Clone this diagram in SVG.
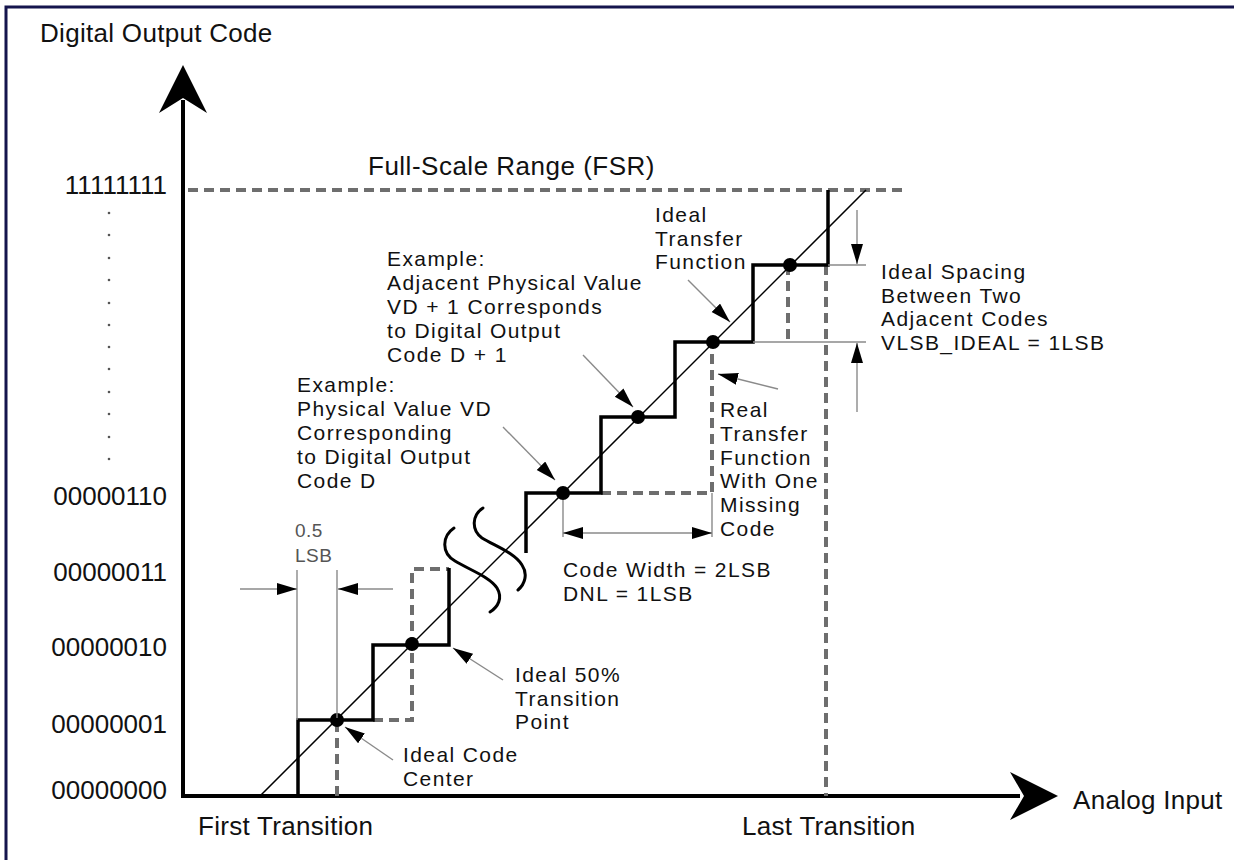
<svg xmlns="http://www.w3.org/2000/svg" width="1234" height="860" viewBox="0 0 1234 860">
<defs>
<style>
text{font-family:"Liberation Sans",Arial,sans-serif;fill:#111;font-size:21px;letter-spacing:1.4px}
.title{font-size:26px;letter-spacing:0.3px}
.code{font-size:26px;letter-spacing:0}
.small{font-size:19px;fill:#555;letter-spacing:0.5px}
.step{fill:none;stroke:#000;stroke-width:3.5;stroke-linejoin:miter}
.dash{fill:none;stroke:#6e6e6e;stroke-width:4;stroke-dasharray:10 6}
.thin{fill:none;stroke:#8a8a8a;stroke-width:1.4}
.lead{fill:none;stroke:#8a8a8a;stroke-width:1.4;marker-end:url(#ah)}
.brk{fill:none;stroke:#000;stroke-width:3;stroke-linecap:round}
</style>
<marker id="ah" markerUnits="userSpaceOnUse" markerWidth="22" markerHeight="14" refX="20" refY="6" orient="auto">
<path d="M0,0 L20,6 L0,12 z" fill="#000"/>
</marker>
<marker id="ah2" markerUnits="userSpaceOnUse" markerWidth="22" markerHeight="14" refX="20" refY="6" orient="auto-start-reverse">
<path d="M0,0 L20,6 L0,12 z" fill="#000"/>
</marker>
</defs>
<rect width="1234" height="860" fill="#fff"/>
<path d="M6,860 V7 H1234" fill="none" stroke="#15154d" stroke-width="3"/>

<g id="axes">
<path d="M183,796 V100" stroke="#000" stroke-width="4" fill="none"/>
<polygon points="183,65 207,113 183,98 159,113" fill="#000"/>
<path d="M181,796 H1020" stroke="#000" stroke-width="4" fill="none"/>
<polygon points="1058,796 1010,772 1024,796 1010,820" fill="#000"/>
<text class="title" x="40" y="42">Digital Output Code</text>
<text class="title" x="1073" y="809">Analog Input</text>
<text class="title" x="198" y="835">First Transition</text>
<text class="title" x="742" y="835">Last Transition</text>
</g>

<g id="codes" text-anchor="end">
<text class="code" x="167" y="194">11111111</text>
<text class="code" x="167" y="505">00000110</text>
<text class="code" x="167" y="581">00000011</text>
<text class="code" x="167" y="656">00000010</text>
<text class="code" x="167" y="733">00000001</text>
<text class="code" x="167" y="799">00000000</text>
</g>
<g id="dots" fill="#555">
<circle cx="109" cy="213" r="1.3"/><circle cx="109" cy="235" r="1.3"/><circle cx="109" cy="258" r="1.3"/>
<circle cx="109" cy="280" r="1.3"/><circle cx="109" cy="303" r="1.3"/><circle cx="109" cy="325" r="1.3"/>
<circle cx="109" cy="347" r="1.3"/><circle cx="109" cy="369" r="1.3"/><circle cx="109" cy="392" r="1.3"/>
<circle cx="109" cy="414" r="1.3"/><circle cx="109" cy="437" r="1.3"/><circle cx="109" cy="459" r="1.3"/>
</g>

<g id="fsr">
<path class="dash" d="M188,190 H905"/>
<text class="title" x="368" y="175" style="letter-spacing:0.5px">Full-Scale Range (FSR)</text>
</g>

<g id="ideal-line">
<path d="M260,796 L866,190" stroke="#000" stroke-width="1.5" fill="none"/>
</g>

<g id="dashed">
<path class="dash" d="M337,722 V796"/>
<path class="dash" d="M373,720 H412 V569 H449"/>
<path class="dash" d="M601,493 H712 V342"/>
<path class="dash" d="M788,265 V342"/>
<path class="dash" d="M826,265 V796"/>
</g>

<g id="staircase">
<path class="step" d="M298,796 V720 H373 V645 H449 V568"/>
<path class="step" d="M526,553 V493 H601 V417 H675 V342 H753 V265 H828 V190"/>
</g>

<g id="break">
<path class="brk" d="M454,528 C442,536 441,553 455,561 C470,570 490,577 497,588 C503,598 498,607 490,612"/>
<path class="brk" d="M483,508 C472,515 471,530 482,538 C495,546 515,553 522,565 C528,574 525,584 518,590"/>
</g>

<g id="points" fill="#000">
<circle cx="337" cy="720" r="7"/>
<circle cx="412" cy="644" r="7"/>
<circle cx="563" cy="493" r="7"/>
<circle cx="638" cy="417" r="7"/>
<circle cx="713" cy="342" r="7"/>
<circle cx="790" cy="265" r="7"/>
</g>

<g id="connectors">
<path class="lead" d="M393,760 L345,727"/>
<path class="lead" d="M503,680 L453,648"/>
<path class="lead" d="M503,427 L555,480"/>
<path class="lead" d="M583,355 L633,407"/>
<path class="lead" d="M688,280 L730,322"/>
<path class="lead" d="M778,389 L718,374"/>
<path class="thin" d="M297,570 V720 M337,570 V718"/>
<path class="lead" d="M240,589 H297"/>
<path class="lead" d="M393,589 H338"/>
<path class="thin" d="M563,500 V537 M712,493 V537"/>
<path class="thin" d="M563,533 H712" style="marker-start:url(#ah2);marker-end:url(#ah2)"/>
<path class="thin" d="M828,265 H866 M753,342 H866"/>
<path class="lead" d="M857,210 V264"/>
<path class="lead" d="M857,412 V343"/>
</g>

<g id="lbl-05lsb">
<text class="small" x="295" y="537">0.5<tspan x="295" y="562">LSB</tspan></text>
</g>
<g id="lbl-center">
<text x="403" y="762">Ideal Code<tspan x="403" y="785.5">Center</tspan></text>
</g>
<g id="lbl-transition">
<text x="515" y="682">Ideal 50%<tspan x="515" y="705.5">Transition</tspan><tspan x="515" y="729">Point</tspan></text>
</g>
<g id="lbl-codewidth">
<text x="563" y="577">Code Width = 2LSB<tspan x="563" y="600.5">DNL = 1LSB</tspan></text>
</g>
<g id="lbl-vd">
<text x="297" y="392">Example:<tspan x="297" y="416">Physical Value VD</tspan><tspan x="297" y="440">Corresponding</tspan><tspan x="297" y="464">to Digital Output</tspan><tspan x="297" y="488">Code D</tspan></text>
</g>
<g id="lbl-vd1">
<text x="387" y="266">Example:<tspan x="387" y="290">Adjacent Physical Value</tspan><tspan x="387" y="314">VD + 1 Corresponds</tspan><tspan x="387" y="338">to Digital Output</tspan><tspan x="387" y="362">Code D + 1</tspan></text>
</g>
<g id="lbl-ideal">
<text x="655" y="222">Ideal<tspan x="655" y="245.5">Transfer</tspan><tspan x="655" y="269">Function</tspan></text>
</g>
<g id="lbl-real">
<text x="720" y="417">Real<tspan x="720" y="440.8">Transfer</tspan><tspan x="720" y="464.6">Function</tspan><tspan x="720" y="488.4">With One</tspan><tspan x="720" y="512.2">Missing</tspan><tspan x="720" y="536">Code</tspan></text>
</g>
<g id="lbl-spacing">
<text x="881" y="279">Ideal Spacing<tspan x="881" y="302.7">Between Two</tspan><tspan x="881" y="326.4">Adjacent Codes</tspan><tspan x="881" y="350.1">VLSB_IDEAL = 1LSB</tspan></text>
</g>
</svg>
